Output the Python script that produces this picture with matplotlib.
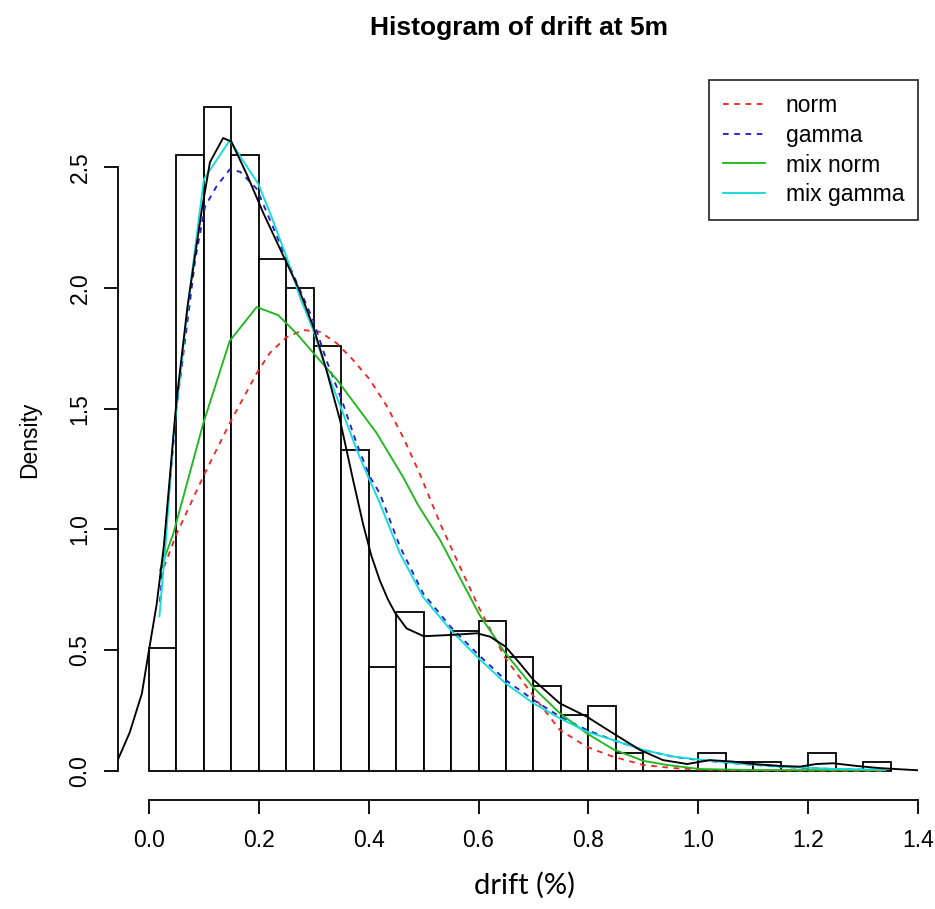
import matplotlib
matplotlib.use("Agg")
import matplotlib.pyplot as plt
import numpy as np

plt.rcParams['font.family'] = ['Liberation Sans', 'DejaVu Sans']

# ---- data ----
bin_edges = [0.00, 0.05, 0.10, 0.15, 0.20, 0.25, 0.30, 0.35, 0.40, 0.45, 0.50, 0.55, 0.60,
             0.65, 0.70, 0.75, 0.80, 0.85, 0.90, 0.95, 1.00, 1.05, 1.10, 1.15, 1.20, 1.25,
             1.30, 1.35]
densities = [0.51, 2.55, 2.75, 2.55, 2.12, 2.00, 1.76, 1.33, 0.43, 0.66, 0.43, 0.58, 0.62,
             0.47, 0.35, 0.23, 0.27, 0.074, 0.0, 0.0, 0.074, 0.037, 0.037, 0.0, 0.074, 0.0,
             0.037]

kde_x = [-0.056, -0.035, -0.013, 0.0, 0.014, 0.027, 0.05, 0.07, 0.096, 0.111, 0.135, 0.15,
         0.178, 0.208, 0.245, 0.272, 0.299, 0.323, 0.348, 0.372, 0.39, 0.405, 0.42, 0.435,
         0.448, 0.469, 0.50, 0.549, 0.597, 0.621, 0.649, 0.675, 0.70, 0.748, 0.797, 0.845,
         0.894, 0.936, 0.98, 1.021, 1.063, 1.10, 1.149, 1.185, 1.215, 1.246, 1.288, 1.33, 1.40]
kde_y = [0.05, 0.16, 0.32, 0.50, 0.69, 0.93, 1.53, 1.92, 2.32, 2.52, 2.62, 2.605,
         2.47, 2.31, 2.13, 2.00, 1.84, 1.66, 1.45, 1.20, 1.02, 0.89, 0.79, 0.71,
         0.655, 0.59, 0.558, 0.563, 0.57, 0.556, 0.515, 0.446, 0.377, 0.28, 0.225, 0.156,
         0.087, 0.045, 0.029, 0.045, 0.039, 0.029, 0.021, 0.018, 0.029, 0.032, 0.021, 0.012,
         0.003]

norm_x = [0.02, 0.05, 0.099, 0.147, 0.196, 0.22, 0.25, 0.281, 0.311, 0.342, 0.372, 0.402,
          0.433, 0.463, 0.493, 0.53, 0.566, 0.602, 0.648, 0.70, 0.748, 0.797, 0.845, 0.90,
          0.954, 1.0, 1.1, 1.2, 1.34]
norm_y = [0.80, 0.98, 1.22, 1.44, 1.646, 1.73, 1.795, 1.825, 1.818, 1.77, 1.70, 1.62,
          1.51, 1.38, 1.23, 1.025, 0.846, 0.67, 0.47, 0.31, 0.17, 0.10, 0.059, 0.025,
          0.012, 0.006, 0.002, 0.001, 0.0]

gamma_x = [0.02, 0.029, 0.05, 0.075, 0.084, 0.102, 0.123, 0.147, 0.166, 0.196, 0.226, 0.25,
           0.275, 0.299, 0.323, 0.351, 0.378, 0.402, 0.42, 0.457, 0.499, 0.549, 0.597, 0.649,
           0.70, 0.748, 0.797, 0.845, 0.90, 0.954, 1.003, 1.064, 1.149, 1.245, 1.34]
gamma_y = [0.70, 0.96, 1.50, 1.95, 2.115, 2.336, 2.42, 2.49, 2.48, 2.41, 2.25, 2.12,
           1.99, 1.865, 1.70, 1.535, 1.356, 1.218, 1.15, 0.928, 0.735, 0.597, 0.487, 0.377,
           0.294, 0.225, 0.17, 0.128, 0.087, 0.059, 0.045, 0.032, 0.017, 0.008, 0.004]

mixnorm_x = [0.02, 0.044, 0.099, 0.147, 0.196, 0.235, 0.269, 0.305, 0.342, 0.378, 0.414,
             0.463, 0.49, 0.53, 0.566, 0.602, 0.648, 0.70, 0.748, 0.797, 0.845, 0.90,
             0.943, 1.003, 1.1, 1.34]
mixnorm_y = [0.83, 0.98, 1.44, 1.78, 1.92, 1.887, 1.81, 1.715, 1.62, 1.51, 1.40,
             1.215, 1.10, 0.956, 0.80, 0.645, 0.49, 0.345, 0.239, 0.156, 0.09, 0.042,
             0.025, 0.008, 0.004, 0.003]

mixgamma_x = [0.019, 0.031, 0.044, 0.072, 0.10, 0.147, 0.199, 0.222, 0.25, 0.275, 0.299,
              0.323, 0.351, 0.378, 0.399, 0.42, 0.457, 0.499, 0.549, 0.597, 0.649, 0.70,
              0.748, 0.797, 0.845, 0.90, 0.954, 1.003, 1.064, 1.149, 1.245, 1.34]
mixgamma_y = [0.64, 0.96, 1.38, 1.95, 2.45, 2.61, 2.43, 2.30, 2.13, 1.96, 1.825,
              1.66, 1.494, 1.33, 1.218, 1.11, 0.90, 0.72, 0.584, 0.473, 0.363, 0.28,
              0.218, 0.163, 0.128, 0.087, 0.06, 0.047, 0.033, 0.018, 0.009, 0.005]

x_ticks = [0.0, 0.2, 0.4, 0.6, 0.8, 1.0, 1.2, 1.4]
y_ticks = [0.0, 0.5, 1.0, 1.5, 2.0, 2.5]
legend_labels = ["norm", "gamma", "mix norm", "mix gamma"]

# ---- figure ----
W, H = 935, 909
fig = plt.figure(figsize=(W / 100, H / 100), dpi=100)
fig.patch.set_facecolor('white')
left, right, top, bottom = 118, 918, 80, 800
ax = fig.add_axes([left / W, (H - bottom) / H, (right - left) / W, (bottom - top) / H])
ax.set_xlim(-0.0564, 1.4)
ax.set_ylim(-0.12, 2.86)

widths = np.diff(bin_edges)
ax.bar(bin_edges[:-1], densities, width=widths, align='edge', facecolor='white',
       edgecolor='black', linewidth=1.3, zorder=1)

lw = 1.35
l1, = ax.plot(norm_x, norm_y, color='#f02828', lw=lw, linestyle=(0, (3, 3)), zorder=3)
l2, = ax.plot(gamma_x, gamma_y, color='#2020d0', lw=lw, linestyle=(0, (3, 3)), zorder=3)
l3, = ax.plot(mixnorm_x, mixnorm_y, color='#1fb81f', lw=lw, zorder=3)
l4, = ax.plot(mixgamma_x, mixgamma_y, color='#12dcdc', lw=lw, zorder=4)
ax.plot(kde_x, kde_y, color='black', lw=lw, zorder=5)

for s in ['top', 'right']:
    ax.spines[s].set_visible(False)
ax.spines['left'].set_bounds(0, 2.5)
ax.spines['bottom'].set_bounds(0, 1.4)
for s in ['left', 'bottom']:
    ax.spines[s].set_linewidth(1.3)
ax.set_xticks(x_ticks)
ax.set_xticklabels([f"{v:.1f}" for v in x_ticks])
ax.set_yticks(y_ticks)
ax.set_yticklabels([f"{v:.1f}" for v in y_ticks], rotation=90, va='center')
ax.tick_params(axis='both', direction='out', length=10, width=1.3, labelsize=16.5)
ax.tick_params(axis='x', pad=11)
ax.tick_params(axis='y', pad=9)
ax.set_facecolor('none')

fig.text(30 / W, 1 - 440 / H, "Density", rotation=90, ha='center', va='center', fontsize=16.5)
fig.text(524 / W, 1 - 885 / H, "drift (%)", ha='center', va='center', fontsize=21,
         family=['Lato', 'DejaVu Sans'])
fig.text(519 / W, 1 - 28 / H, "Histogram of drift at 5m", ha='center', va='center',
         fontsize=19, fontweight='bold')

leg = ax.legend([l1, l2, l3, l4], legend_labels, loc='upper right', bbox_to_anchor=(1.0, 1.0),
                borderaxespad=0, fancybox=False, frameon=True, fontsize=16.5,
                handlelength=1.85, handletextpad=0.9, labelspacing=0.3, borderpad=0.6)
leg.get_frame().set_edgecolor('black')
leg.get_frame().set_linewidth(1.3)

fig.savefig("out.png", dpi=100, facecolor='white')
